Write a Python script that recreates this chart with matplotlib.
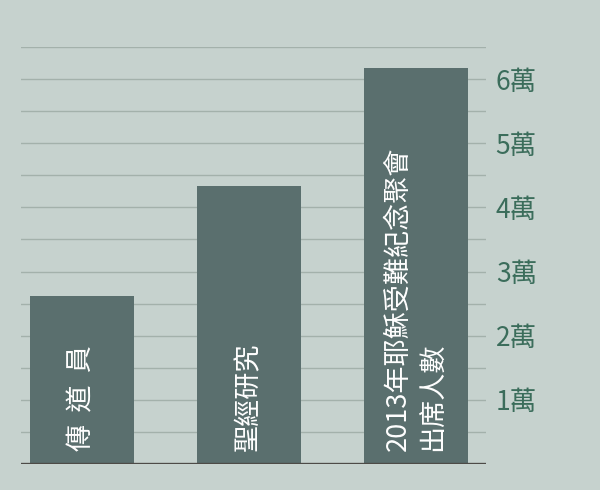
import matplotlib
matplotlib.use("Agg")
import matplotlib.pyplot as plt
import numpy as np

categories = ["傳  道  員", "聖經研究", "2013年耶穌受難紀念聚會\n出席人數"]
values = [2.62, 4.33, 6.18]  # in 萬
tick_values = [1, 2, 3, 4, 5, 6]
tick_labels = ["1萬", "2萬", "3萬", "4萬", "5萬", "6萬"]
grid_values = np.arange(0.5, 6.51, 0.5)

BG = "#c6d2ce"
BAR = "#5a6f6e"
GRID = "#a3b1ab"
TICK = "#3b6d5b"
BASE = "#4d4b47"

plt.rcParams['font.family'] = ['Noto Sans CJK TC', 'DejaVu Sans']

fig = plt.figure(figsize=(6, 4.9), dpi=100, facecolor=BG)
ax = fig.add_axes([21/600, (490-464)/490, 465/600, (464-47)/490])
ax.set_facecolor(BG)

x = np.arange(len(categories))
ax.bar(x, values, width=0.623, color=BAR, zorder=3)
for gv in grid_values:
    ax.axhline(gv, color=GRID, linewidth=1.0, zorder=1)
ax.axhline(0, color=BASE, linewidth=2.4, zorder=4)

ax.set_xlim(-0.365, 2.419)
ax.set_ylim(0, 6.5)

for xi, lab in zip(x, categories):
    ax.text(xi, 0.2, lab, rotation=90, ha='center', va='bottom',
            color='white', fontsize=19.5, linespacing=1.42, zorder=5,
            multialignment='left')

ax.yaxis.tick_right()
ax.set_yticks(tick_values)
ax.set_yticklabels(tick_labels)
ax.tick_params(axis='y', length=0, pad=7, labelsize=19, labelcolor=TICK)
ax.set_xticks([])
for s in ax.spines.values():
    s.set_visible(False)

fig.savefig("out.png", dpi=100, facecolor=BG)
